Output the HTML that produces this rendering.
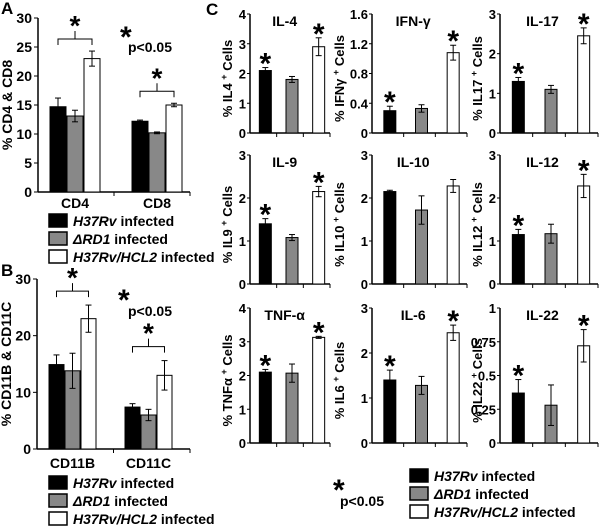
<!DOCTYPE html>
<html><head><meta charset="utf-8"><style>
body{margin:0;background:#fff}
svg{font-family:"Liberation Sans",sans-serif;font-weight:bold}
</style></head><body>
<svg id="fig" width="600" height="526" viewBox="0 0 600 526"></svg>
<script>
// Panel A data
const aCats=["CD4","CD8"];
const aH37=[14.7,12.2], aH37e=[1.5,0.2];
const aRD1=[13.1,10.2], aRD1e=[1.0,0.15];
const aHCL=[23.0,15.0], aHCLe=[1.3,0.3];
const aTicks=[0,5,10,15,20,25,30];
// Panel B data
const bCats=["CD11B","CD11C"];
const bH37=[14.9,7.4], bH37e=[1.7,0.6];
const bRD1=[13.8,6.0], bRD1e=[3.1,1.0];
const bHCL=[23.0,13.0], bHCLe=[2.4,2.6];
const bTicks=[0,10,20,30];
// Panel C data
const cNames=["IL-4","IFN-γ","IL-17","IL-9","IL-10","IL-12","TNF-α","IL-6","IL-22"];
const cYlab=["IL4","IFNγ","IL17","IL9","IL10","IL12","TNFα","IL6","IL22"];
const cH37=[2.1,0.3,1.3,1.4,2.15,1.15,2.1,1.4,0.37];
const cH37e=[0.1,0.06,0.1,0.12,0.03,0.12,0.08,0.22,0.1];
const cRD1=[1.8,0.33,1.1,1.08,1.72,1.17,2.07,1.28,0.28];
const cRD1e=[0.1,0.05,0.1,0.07,0.33,0.22,0.27,0.2,0.15];
const cHCL=[2.9,1.08,2.45,2.15,2.28,2.28,3.13,2.45,0.72];
const cHCLe=[0.3,0.1,0.2,0.12,0.15,0.27,0.03,0.17,0.12];
const cStars=[[1,0,1],[1,0,1],[1,0,1],[1,0,1],[0,0,0],[1,0,1],[1,0,1],[1,0,1],[1,0,1]];
const cTicks=[["0","1","2","3","4"],["0","0.4","0.8","1.2","1.6"],["0","1","2","3"],["0","1","2","3"],["0","1","2","3"],["0","1","2","3"],["0","1","2","3","4"],["0","1","2","3"],["0","0.25","0.5","0.75","1"]];

const S=document.getElementById('fig');
const NS="http://www.w3.org/2000/svg";
function mk(tag,attrs,parent){const e=document.createElementNS(NS,tag);for(const k in attrs)e.setAttribute(k,attrs[k]);(parent||S).appendChild(e);return e;}
function txt(x,y,s,size,parent,anchor,style){const t=mk('text',{x:x,y:y,'font-size':size,'text-anchor':anchor||'start'},parent);if(style)t.setAttribute('style',style);t.textContent=s;return t;}
const fills=["#000","#888","#fff"];
const series=["h37rv","rd1","hcl2"];

function errbar(g,x,y1,y2){
  mk('line',{x1:x,x2:x,y1:y1,y2:y2,stroke:'#000','stroke-width':1},g);
  mk('line',{x1:x-3,x2:x+3,y1:y1,y2:y1,stroke:'#000','stroke-width':1},g);
  mk('line',{x1:x-3,x2:x+3,y1:y2,y2:y2,stroke:'#000','stroke-width':1},g);
}

function groupPanel(name,ax,y0,yTop,maxV,ticks,xEnd,cats,vals,errs,groupX,bw,catY,brackets,ylabel){
  const g=mk('g',{});
  
  
  const Y=v=>y0-(v/maxV)*(y0-yTop);
  mk('line',{x1:ax,x2:ax,y1:y0,y2:yTop,stroke:'#000','stroke-width':1.5},g);
  mk('line',{x1:ax,x2:xEnd,y1:y0,y2:y0,stroke:'#000','stroke-width':1.5},g);
  ticks.forEach(t=>{const y=Y(t);mk('line',{x1:ax-4,x2:ax,y1:y,y2:y,stroke:'#000'},g);txt(ax-6,y+5,String(t),14,g,'end');});
  mk('line',{x1:(ax+xEnd)/2,x2:(ax+xEnd)/2,y1:y0,y2:y0+4,stroke:'#000'},g);
  mk('line',{x1:xEnd,x2:xEnd,y1:y0,y2:y0+4,stroke:'#000'},g);
  cats.forEach((c,i)=>{
    for(let s=0;s<3;s++){
      const x=groupX[i]+s*(bw+1);const v=vals[s][i];
      const r=mk('rect',{x:x,y:Y(v),width:bw,height:y0-Y(v),fill:fills[s],stroke:'#000','stroke-width':1},g);
      
      
      errbar(g,x+bw/2,Y(v+errs[s][i]),Y(v-errs[s][i]));
    }
    txt(groupX[i]+(3*bw+2)/2,catY,c,14,g,'middle');
    const x1=groupX[i]+bw/2,x2=groupX[i]+2*(bw+1)+bw/2,by=Y(Math.max(vals[0][i],vals[2][i]+errs[2][i]))-brackets[i];
    mk('path',{d:`M${x1},${by+6}V${by}H${x2}V${by+6}M${(x1+x2)/2},${by}V${by-8}`,fill:'none',stroke:'#000'},g);
    txt((x1+x2)/2,by-4,'*',28,g,'middle');
  });
  const yl=txt(0,0,ylabel,14,g,'middle');
  yl.setAttribute('transform',`translate(${ax-26},${(y0+yTop)/2}) rotate(-90)`);
  return g;
}

function legend(name,x,y,sp){
  const g=mk('g',{});
  
  
  const labs=[["H37Rv"," infected"],["ΔRD1"," infected"],["H37Rv/HCL2"," infected"]];
  labs.forEach((l,i)=>{
    mk('rect',{x:x,y:y+i*sp,width:18,height:13,fill:fills[i],stroke:'#000','stroke-width':1.5},g);
    const t=mk('text',{x:x+24,y:y+i*sp+12,'font-size':14},g);
    const a=mk('tspan',{'font-style':'italic'},t);a.textContent=l[0];
    const b=mk('tspan',{},t);b.textContent=l[1];
  });
}

// Panel letters
txt(1,14,'A',17);txt(1,276,'B',17);txt(206,15,'C',17);

// Panel A
groupPanel('panel-a-chart',38,192,18,30,aTicks,190,aCats,[aH37,aRD1,aHCL],[aH37e,aRD1e,aHCLe],[50,132],16,208,[12,12],'% CD4 & CD8');
txt(120,47,'*',30);txt(128,52,'p<0.05',14);
legend('legend-a',49,214,18);

// Panel B
groupPanel('panel-b-chart',37,449,279,30,bTicks,190,bCats,[bH37,bRD1,bHCL],[bH37e,bRD1e,bHCLe],[49,125],15,468,[14,14],'% CD11B & CD11C');
txt(118,310,'*',30);txt(128,316,'p<0.05',14);
legend('legend-b',49,476,18);

// Panel C
const colAx=[250,372,500], colEnd=[330,467,598], colLab=[-18,-28,-18];
const rowY0=[133,284,443], rowTop=[14,155,308];
for(let k=0;k<9;k++){
  const c=k%3,r=Math.floor(k/3);
  const g=mk('g',{});
  
  
  const ax=colAx[c],y0=rowY0[r],yt=rowTop[r],xe=colEnd[c];
  const tk=cTicks[k],maxV=parseFloat(tk[tk.length-1]);
  const Y=v=>y0-(v/maxV)*(y0-yt);
  mk('line',{x1:ax,x2:ax,y1:y0,y2:yt,stroke:'#000','stroke-width':1.5},g);
  mk('line',{x1:ax,x2:xe,y1:y0,y2:y0,stroke:'#000','stroke-width':1.5},g);
  tk.forEach(t=>{const y=Y(parseFloat(t));mk('line',{x1:ax-3,x2:ax,y1:y,y2:y,stroke:'#000'},g);txt(ax-4,y+5,t,13,g,'end');});
  const step=(xe-ax)/3;
  for(let i=1;i<=3;i++)mk('line',{x1:ax+i*step,x2:ax+i*step,y1:y0,y2:y0+4,stroke:'#000'},g);
  const vals=[cH37[k],cRD1[k],cHCL[k]],errs=[cH37e[k],cRD1e[k],cHCLe[k]];
  for(let s=0;s<3;s++){
    const bw=12,x=ax+step*s+step/2-bw/2+2,v=vals[s];
    const rr=mk('rect',{x:x,y:Y(v),width:bw,height:y0-Y(v),fill:fills[s],stroke:'#000','stroke-width':1},g);
    
    
    errbar(g,x+bw/2,Y(v+errs[s]),Y(v-errs[s]));
    if(cStars[k][s])txt(x+bw/2,Y(v+errs[s])+6,'*',30,g,'middle');
  }
  txt(ax+step*1.3,yt+12,cNames[k],14,g,'middle');
  const yl=mk('text',{'font-size':13,'text-anchor':'middle',transform:`translate(${ax+colLab[c]},${(y0+yt)/2+5}) rotate(-90)`},g);
  const t1=mk('tspan',{},yl);t1.textContent='% '+cYlab[k]+' ';
  const t2=mk('tspan',{'font-size':9,dy:-5},yl);t2.textContent='+';
  const t3=mk('tspan',{dy:5},yl);t3.textContent=' Cells';
}
txt(333,500,'*',30);txt(340,506,'p<0.05',14);
legend('legend-c',410,469,18);
</script>
</body></html>
